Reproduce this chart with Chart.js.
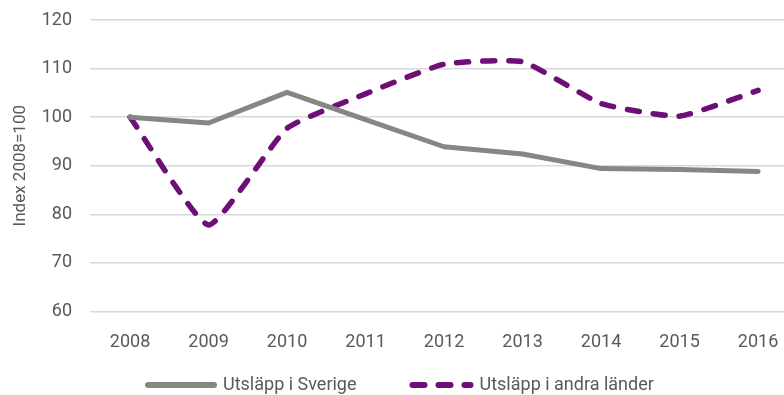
<!DOCTYPE html>
<html>
<head>
<meta charset="utf-8">
<script src="https://cdn.jsdelivr.net/npm/chart.js@4/dist/chart.umd.min.js"></script>
<style>
  html, body { margin: 0; padding: 0; background: #fff; }
  #wrap { width: 784px; height: 395px; }
</style>
</head>
<body>
<div id="wrap"><canvas id="emissionsChart"></canvas></div>
<script>
// years and index values (2008 = 100)
const years = [2008, 2009, 2010, 2011, 2012, 2013, 2014, 2015, 2016];
const sverige = [100, 98.8, 105.1, 99.5, 93.9, 92.4, 89.4, 89.2, 88.8];
const andraLander = [100, 77.8, 97.7, 104.8, 110.9, 111.4, 102.8, 100.2, 105.5];
const yTicks = [60, 70, 80, 90, 100, 110, 120];

const textColor = '#595959';
const grayLine = '#878781';
const purpleLine = '#6e0f78';
const fontSize = 18;

Chart.defaults.font.family = 'Roboto, sans-serif';
Chart.defaults.color = textColor;

const toPoints = vals => vals.map((v, i) => ({ x: years[i], y: v }));

// legend drawn under the axis, with line keys (solid / dashed)
const lineLegend = {
    id: 'lineLegend',
    afterDraw(chart) {
        const c = chart.ctx;
        const y = 385;
        const keyWidth = [72, 64];
        const itemGap = 53;
        let x = chart.chartArea.left + 55;
        c.save();
        c.font = `${fontSize}px Roboto, sans-serif`;
        c.textBaseline = 'middle';
        c.fillStyle = textColor;
        chart.data.datasets.forEach((ds, i) => {
            c.beginPath();
            c.strokeStyle = ds.borderColor;
            c.lineWidth = 6;
            c.lineCap = 'round';
            c.setLineDash(ds.borderDash || []);
            c.moveTo(x + 3, y);
            c.lineTo(x + keyWidth[i] - 3, y);
            c.stroke();
            c.setLineDash([]);
            x += keyWidth[i] + 6;
            c.fillText(ds.label, x, y);
            x += c.measureText(ds.label).width + itemGap;
        });
        c.restore();
    }
};

const ctx = document.getElementById('emissionsChart').getContext('2d');

new Chart(ctx, {
    type: 'line',
    data: {
        datasets: [{
            label: 'Utsläpp i Sverige',
            data: toPoints(sverige),
            borderColor: grayLine,
            backgroundColor: grayLine,
            borderWidth: 5,
            borderCapStyle: 'round',
            borderJoinStyle: 'round',
            pointRadius: 0,
            tension: 0
        }, {
            label: 'Utsläpp i andra länder',
            data: toPoints(andraLander),
            borderColor: purpleLine,
            backgroundColor: purpleLine,
            borderWidth: 5.5,
            borderDash: [12, 14],
            borderCapStyle: 'round',
            borderJoinStyle: 'round',
            pointRadius: 0,
            tension: 0.15
        }]
    },
    options: {
        responsive: true,
        maintainAspectRatio: false,
        animation: false,
        layout: { padding: { top: 20, right: 0, left: 0, bottom: 30 } },
        plugins: {
            tooltip: { enabled: false },
            legend: { display: false }
        },
        scales: {
            x: {
                type: 'linear',
                min: 2007.49,
                max: 2016.33,
                grid: { display: false },
                border: { display: false },
                afterBuildTicks: axis => {
                    axis.ticks = years.map(y => ({ value: y }));
                },
                // let the plot run to the right edge
                afterFit: axis => {
                    axis.paddingRight = 0;
                },
                ticks: {
                    padding: 12,
                    font: { size: fontSize },
                    callback: v => String(v)
                }
            },
            y: {
                min: 60,
                max: 120,
                afterBuildTicks: axis => {
                    axis.ticks = yTicks.map(v => ({ value: v }));
                },
                // fixed axis width, no extra room above the top tick
                afterFit: axis => {
                    axis.width = 90;
                    axis.paddingTop = 0;
                },
                grid: { color: '#d9d9d9', lineWidth: 1.5, drawTicks: false },
                border: { display: false },
                ticks: { padding: 18, font: { size: fontSize } },
                title: {
                    display: true,
                    text: 'Index 2008=100',
                    font: { size: 17 },
                    color: textColor,
                    padding: { top: 11, bottom: 10 }
                }
            }
        }
    },
    plugins: [lineLegend]
});
</script>
</body>
</html>
